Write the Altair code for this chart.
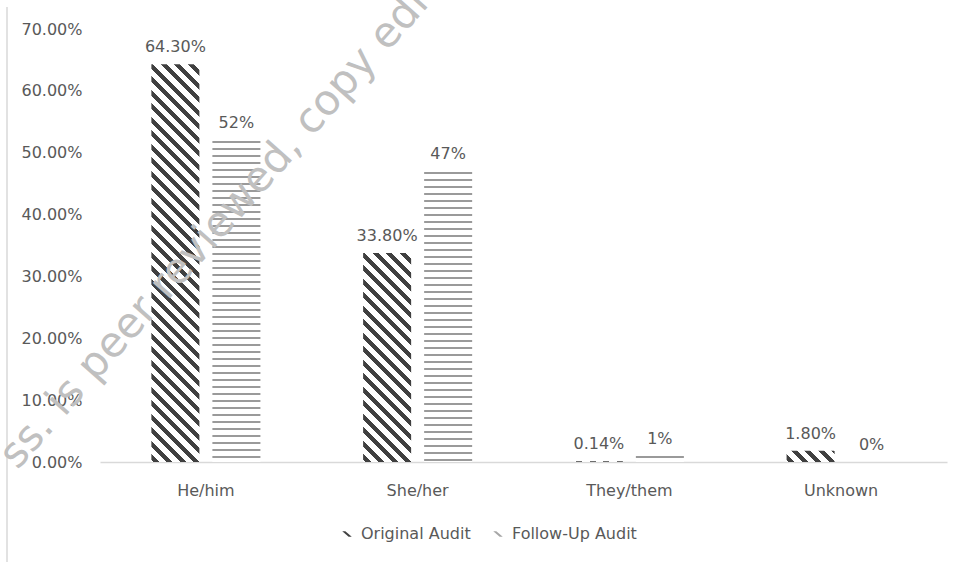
import altair as alt
import pandas as pd

# ---- data ----
categories = ["He/him", "She/her", "They/them", "Unknown"]
series_names = ["Original Audit", "Follow-Up Audit"]
original_vals = [0.643, 0.338, 0.0014, 0.018]
followup_vals = [0.52, 0.47, 0.01, 0.0]
original_labels = ["64.30%", "33.80%", "0.14%", "1.80%"]
followup_labels = ["52%", "47%", "1%", "0%"]
y_ticks = [0.0, 0.1, 0.2, 0.3, 0.4, 0.5, 0.6, 0.7]
watermark_text = "ss. is peer reviewed, copy edite"

rows = []
for i, c in enumerate(categories):
    rows.append({"category": c, "series": series_names[0], "value": original_vals[i], "label": original_labels[i]})
    rows.append({"category": c, "series": series_names[1], "value": followup_vals[i], "label": followup_labels[i]})
df = pd.DataFrame(rows)

# ---- layout ----
PLOT_W, PLOT_H = 847, 433
YMAX = 0.7
PX_PER_UNIT = PLOT_H / YMAX
BAR_W = 48.0
FONT = "DejaVu Sans"
TXT = "#595959"
DARK = "#404040"
WAVE = "#9a9a9a"


def diag_gradient(h, w=BAR_W, period=13.5, frac=0.45):
    """Back-slash stripes via an objectBoundingBox linear gradient."""
    c = (w + h) / (w * w + h * h)
    L = w + h
    stops = [{"offset": 0, "color": "white"}]
    s = 2.0
    while s < L:
        a = s / L
        b = min((s + frac * period) / L, 1.0)
        stops += [{"offset": a, "color": "white"}, {"offset": a, "color": DARK},
                  {"offset": b, "color": DARK}, {"offset": b, "color": "white"}]
        s += period
    stops.append({"offset": 1, "color": "white"})
    return {"gradient": "linear", "x1": 0, "y1": 1, "x2": c * w, "y2": 1 - c * h, "stops": stops}


def wave_gradient(h, period=7.0, thick=2.0):
    """Thin horizontal lines approximating the wave pattern."""
    L = max(h, 0.5)
    stops = [{"offset": 0, "color": "white"}]
    s = 0.5
    while s < L:
        a = s / L
        b = min((s + thick) / L, 1.0)
        stops += [{"offset": a, "color": "white"}, {"offset": a, "color": WAVE},
                  {"offset": b, "color": WAVE}, {"offset": b, "color": "white"}]
        s += period
    stops.append({"offset": 1, "color": "white"})
    return {"gradient": "linear", "x1": 0, "y1": 0, "x2": 0, "y2": 1, "stops": stops}


x_enc = alt.X(
    "category:N", sort=categories,
    scale=alt.Scale(paddingInner=0.485, paddingOuter=0.2426),
    axis=alt.Axis(title=None, ticks=False, labelAngle=0, domainColor="#d9d9d9", domainWidth=1.5,
                  labelPadding=20, labelFontSize=16, labelFont=FONT, labelColor=TXT, grid=False),
)
xoff_enc = alt.XOffset("series:N", sort=series_names,
                       scale=alt.Scale(domain=series_names, paddingInner=0.213, paddingOuter=0))
y_enc = alt.Y(
    "value:Q",
    scale=alt.Scale(domain=[0, YMAX], nice=False, zero=True),
    axis=alt.Axis(title=None, values=y_ticks, format=".2%", grid=False, ticks=False, domain=False,
                  labelPadding=18, labelFontSize=16, labelFont=FONT, labelColor=TXT),
)

legend_symbol = "M -1 -0.6 L -0.35 -0.6 L 1 0.6 L 0.35 0.6 Z"

base = alt.Chart(df).mark_bar(opacity=0).encode(
    x=x_enc, xOffset=xoff_enc, y=y_enc,
    color=alt.Color("series:N", sort=series_names,
                    scale=alt.Scale(domain=series_names, range=[DARK, "#a6a6a6"]),
                    legend=alt.Legend(title=None, orient="none", legendX=239, legendY=497,
                                      direction="horizontal", symbolType=legend_symbol,
                                      symbolSize=90, symbolOpacity=1, symbolStrokeWidth=0,
                                      labelFontSize=16, labelFont=FONT, labelColor=TXT,
                                      labelOffset=6, columnPadding=19, padding=0)),
)

layers = [base]
for i, c in enumerate(categories):
    for s, vals in ((series_names[0], original_vals), (series_names[1], followup_vals)):
        v = vals[i]
        if v <= 0:
            continue
        h = v * PX_PER_UNIT
        grad = diag_gradient(h) if s == series_names[0] else wave_gradient(h)
        layers.append(
            alt.Chart(df)
            .transform_filter((alt.datum.category == c) & (alt.datum.series == s))
            .mark_bar(fill=grad, strokeWidth=0)
            .encode(x=x_enc, xOffset=xoff_enc, y=y_enc)
        )

labels = alt.Chart(df).mark_text(baseline="bottom", dy=-9, fontSize=16, font=FONT, color=TXT).encode(
    x=x_enc, xOffset=xoff_enc, y=y_enc, text="label:N"
)
layers.append(labels)

border = alt.Chart(pd.DataFrame({"a": [0]})).mark_rule(color="#d9d9d9", strokeWidth=1.5).encode(
    x=alt.value(-93), y=alt.value(-22), y2=alt.value(533)
)
layers.append(border)

watermark = alt.Chart(pd.DataFrame({"t": [watermark_text]})).mark_text(
    angle=311.5, fontSize=42, font=FONT, color="#c0c0c0", align="center", baseline="middle"
).encode(x=alt.value(128), y=alt.value(184), text="t:N")
layers.append(watermark)

chart = alt.layer(*layers).properties(
    width=PLOT_W, height=PLOT_H, autosize="none",
    padding={"left": 100, "top": 29, "right": 14, "bottom": 100},
    background="white",
).configure_view(stroke=None)

chart.save("out.html", embed_options={"renderer": "svg", "actions": False})
